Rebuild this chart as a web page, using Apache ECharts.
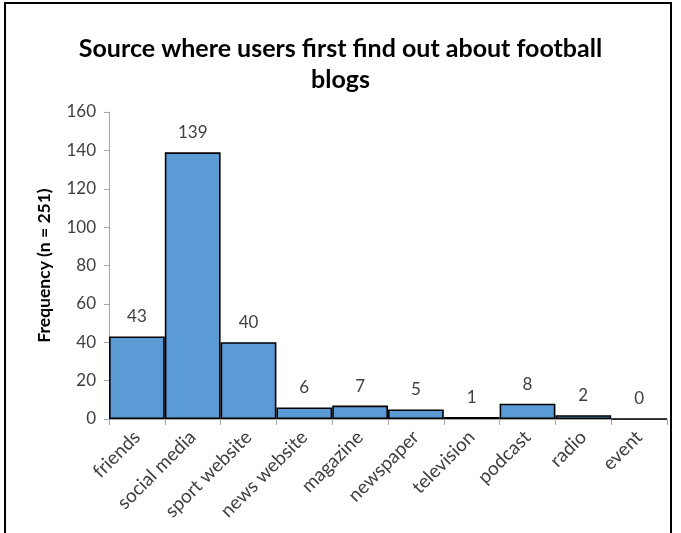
<!DOCTYPE html>
<html>
<head>
<meta charset="utf-8">
<script src="https://cdn.jsdelivr.net/npm/echarts@6/dist/echarts.min.js"></script>
<style>
  html, body { margin: 0; padding: 0; background: #fff; }
  #chart { width: 681px; height: 533px; }
</style>
</head>
<body>
<div id="chart"></div>
<script>
// Where users first heard about football blogs (n = 251)
const categories = ['friends', 'social media', 'sport website', 'news website', 'magazine',
                    'newspaper', 'television', 'podcast', 'radio', 'event'];
const frequencies = [43, 139, 40, 6, 7, 5, 1, 8, 2, 0];
const yTicks = { min: 0, max: 160, interval: 20 };

const textFont = 'Lato, "Open Sans", sans-serif';
const chart = echarts.init(document.getElementById('chart'), null, { renderer: 'canvas' });

chart.setOption({
  backgroundColor: '#ffffff',
  animation: false,
  title: {
    text: 'Source where users first find out about football\nblogs',
    left: 'center',
    top: 28,
    textStyle: {
      fontFamily: textFont,
      fontSize: 25,
      fontWeight: 'bold',
      color: '#000000',
      lineHeight: 31
    }
  },
  grid: { left: 109, right: 14, top: 112, bottom: 114, containLabel: false },
  xAxis: {
    type: 'category',
    data: categories,
    boundaryGap: true,
    axisLine: { lineStyle: { color: '#a6a6a6', width: 1 } },
    axisTick: { show: true, alignWithLabel: false, length: 6, lineStyle: { color: '#a6a6a6' } },
    axisLabel: {
      interval: 0,
      rotate: 45,
      margin: 15,
      fontFamily: textFont,
      fontSize: 19,
      color: '#404040'
    },
    splitLine: { show: false }
  },
  yAxis: {
    type: 'value',
    min: yTicks.min,
    max: yTicks.max,
    interval: yTicks.interval,
    name: 'Frequency (n = 251)',
    nameLocation: 'middle',
    nameGap: 56,
    nameRotate: 90,
    nameTextStyle: {
      fontFamily: textFont,
      fontSize: 17.5,
      fontWeight: 'bold',
      color: '#000000'
    },
    axisLine: { show: true, lineStyle: { color: '#a6a6a6', width: 1 } },
    axisTick: { show: true, length: 5, lineStyle: { color: '#a6a6a6' } },
    axisLabel: {
      margin: 13,
      fontFamily: textFont,
      fontSize: 17,
      color: '#404040'
    },
    splitLine: { show: false }
  },
  series: [{
    type: 'bar',
    data: frequencies,
    barCategoryGap: '0%',
    itemStyle: {
      color: '#5b9bd5',
      borderColor: '#000000',
      borderWidth: 1.6
    },
    label: {
      show: true,
      position: 'top',
      distance: 11,
      fontFamily: textFont,
      fontSize: 17,
      color: '#404040'
    }
  }],
  graphic: [{
    type: 'rect',
    shape: { x: 5, y: 3, width: 666, height: 600 },
    style: { fill: 'none', stroke: '#000000', lineWidth: 2 },
    silent: true
  }]
});
</script>
</body>
</html>
